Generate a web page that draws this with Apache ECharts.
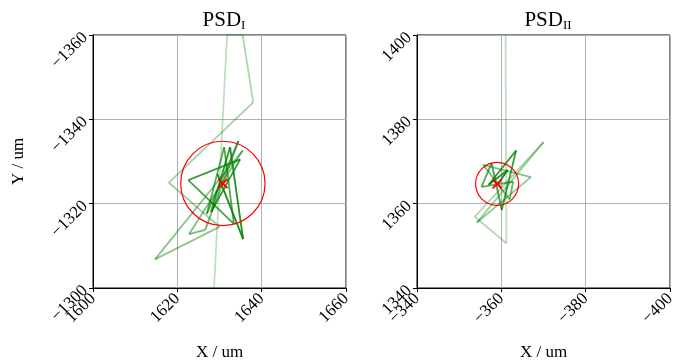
<!DOCTYPE html>
<html>
<head>
<meta charset="utf-8">
<script src="https://cdn.jsdelivr.net/npm/echarts@6/dist/echarts.min.js"></script>
<style>
  html, body { margin: 0; padding: 0; background: #fff; }
  #chart { width: 678px; height: 360px; }
</style>
</head>
<body>
<div id="chart"></div>
<script>
// trajectory of PSD I (um)
const psd1X = [1628.7, 1631.8, 1635.5, 1638.0, 1618.0, 1630.0, 1614.7, 1635.5, 1622.8, 1626.6,
  1634.5, 1627.0, 1631.1, 1633.4, 1622.6, 1634.9, 1628.0, 1632.5, 1635.6, 1629.5];
const psd1Y = [-1300, -1360, -1360, -1344, -1325, -1314.5, -1306.8, -1332.6, -1312.8, -1313.8,
  -1334.9, -1317.6, -1333.4, -1315.2, -1325.6, -1330.5, -1318.0, -1333.4, -1311.6, -1327.0];
// trajectory of PSD II (um)
const psd2X = [-361.0, -361.2, -353.7, -370.0, -354.2, -367.0, -355.7, -362.0, -362.8, -355.3,
  -357.7, -360.1, -363.5, -357.0, -361.5, -359.3];
const psd2Y = [1400, 1350.6, 1356.9, 1374.6, 1355.5, 1366.3, 1369.2, 1361.0, 1365.2, 1364.0,
  1369.6, 1358.5, 1372.6, 1364.5, 1368.0, 1364.8];
// mean position and spread radius
const centre1 = [1630.8, -1324.8];
const radius1 = 10;
const centre2 = [-359.0, 1364.7];
const radius2 = 5.1;
// axes
const xTicks1 = [1600, 1620, 1640, 1660];
const yTicks1 = [-1360, -1340, -1320, -1300];
const xTicks2 = [-400, -380, -360, -340];
const yTicks2 = [1340, 1360, 1380, 1400];

const FONT = 'Liberation Serif';
const minus = v => String(v).replace('-', '\u2212');

let chartDom = document.getElementById('chart');
let myChart = echarts.init(chartDom);

function axisBase(ticks, inverse, name, gap) {
  return {
    type: 'value',
    min: Math.min(...ticks),
    max: Math.max(...ticks),
    interval: 20,
    inverse: inverse,
    name: name,
    nameLocation: 'middle',
    nameGap: gap,
    nameTextStyle: { fontFamily: FONT, fontSize: 17, color: '#000' },
    axisLine: { show: true, onZero: false, lineStyle: { color: '#000', width: 1 } },
    axisTick: { show: true, inside: false, length: 4, lineStyle: { color: '#000' } },
    axisLabel: {
      rotate: 45, fontFamily: FONT, fontSize: 17, color: '#000', margin: 8,
      formatter: minus
    },
    splitLine: { show: true, lineStyle: { color: '#b0b0b0', width: 1 } }
  };
}

function trajectory(xs, ys, idx) {
  const n = xs.length - 1;
  const out = [];
  for (let i = 0; i < n; i++) {
    out.push({
      type: 'line',
      xAxisIndex: idx, yAxisIndex: idx,
      data: [[xs[i], ys[i]], [xs[i + 1], ys[i + 1]]],
      showSymbol: false,
      clip: true,
      silent: true,
      lineStyle: { color: '#008000', width: 1.8, opacity: 0.25 + 0.65 * i / (n - 1) },
      z: 2
    });
  }
  return out;
}

function circleSeries(c, r, idx) {
  return {
    type: 'custom',
    xAxisIndex: idx, yAxisIndex: idx,
    data: [[c[0], c[1], r]],
    silent: true,
    z: 3,
    renderItem: function (params, api) {
      const p = api.coord([api.value(0), api.value(1)]);
      const s = api.size([api.value(2), api.value(2)]);
      return {
        type: 'circle',
        shape: { cx: p[0], cy: p[1], r: s[0] },
        style: { fill: 'none', stroke: '#ff0000', lineWidth: 1.2 }
      };
    }
  };
}

function crossSeries(c, idx) {
  return {
    type: 'custom',
    xAxisIndex: idx, yAxisIndex: idx,
    data: [c],
    silent: true,
    z: 4,
    renderItem: function (params, api) {
      const p = api.coord([api.value(0), api.value(1)]);
      const h = 4.5;
      return {
        type: 'group',
        children: [
          { type: 'line', shape: { x1: p[0] - h, y1: p[1] - h, x2: p[0] + h, y2: p[1] + h },
            style: { stroke: '#ff0000', lineWidth: 2 } },
          { type: 'line', shape: { x1: p[0] - h, y1: p[1] + h, x2: p[0] + h, y2: p[1] - h },
            style: { stroke: '#ff0000', lineWidth: 2 } }
        ]
      };
    }
  };
}

const titleRich = {
  a: { fontFamily: FONT, fontSize: 21, fontWeight: 'normal', color: '#000' },
  b: { fontFamily: FONT, fontSize: 13, fontWeight: 'normal', color: '#000', padding: [10, 0, 0, 0] }
};

let option = {
  backgroundColor: '#fff',
  animation: false,
  title: [
    { text: '{a|PSD}{b|I}', left: 219, top: 4, textAlign: 'center',
      textStyle: { fontWeight: 'normal', rich: titleRich } },
    { text: '{a|PSD}{b|II}', left: 543, top: 4, textAlign: 'center',
      textStyle: { fontWeight: 'normal', rich: titleRich } }
  ],
  grid: [
    { left: 93, top: 35, width: 253, height: 253, show: true, borderColor: '#000', borderWidth: 1,
      containLabel: false, outerBoundsMode: 'none' },
    { left: 417, top: 35, width: 253, height: 253, show: true, borderColor: '#000', borderWidth: 1,
      containLabel: false, outerBoundsMode: 'none' }
  ],
  xAxis: [
    Object.assign(axisBase(xTicks1, false, 'X / um', 56), { gridIndex: 0 }),
    Object.assign(axisBase(xTicks2, true, 'X / um', 56), { gridIndex: 1 })
  ],
  yAxis: [
    Object.assign(axisBase(yTicks1, true, 'Y / um', 66), { gridIndex: 0 }),
    Object.assign(axisBase(yTicks2, false, '', 0), { gridIndex: 1 })
  ],
  series: [].concat(
    trajectory(psd1X, psd1Y, 0),
    trajectory(psd2X, psd2Y, 1),
    [circleSeries(centre1, radius1, 0), crossSeries(centre1, 0),
     circleSeries(centre2, radius2, 1), crossSeries(centre2, 1)]
  )
};

option && myChart.setOption(option);
</script>
</body>
</html>
